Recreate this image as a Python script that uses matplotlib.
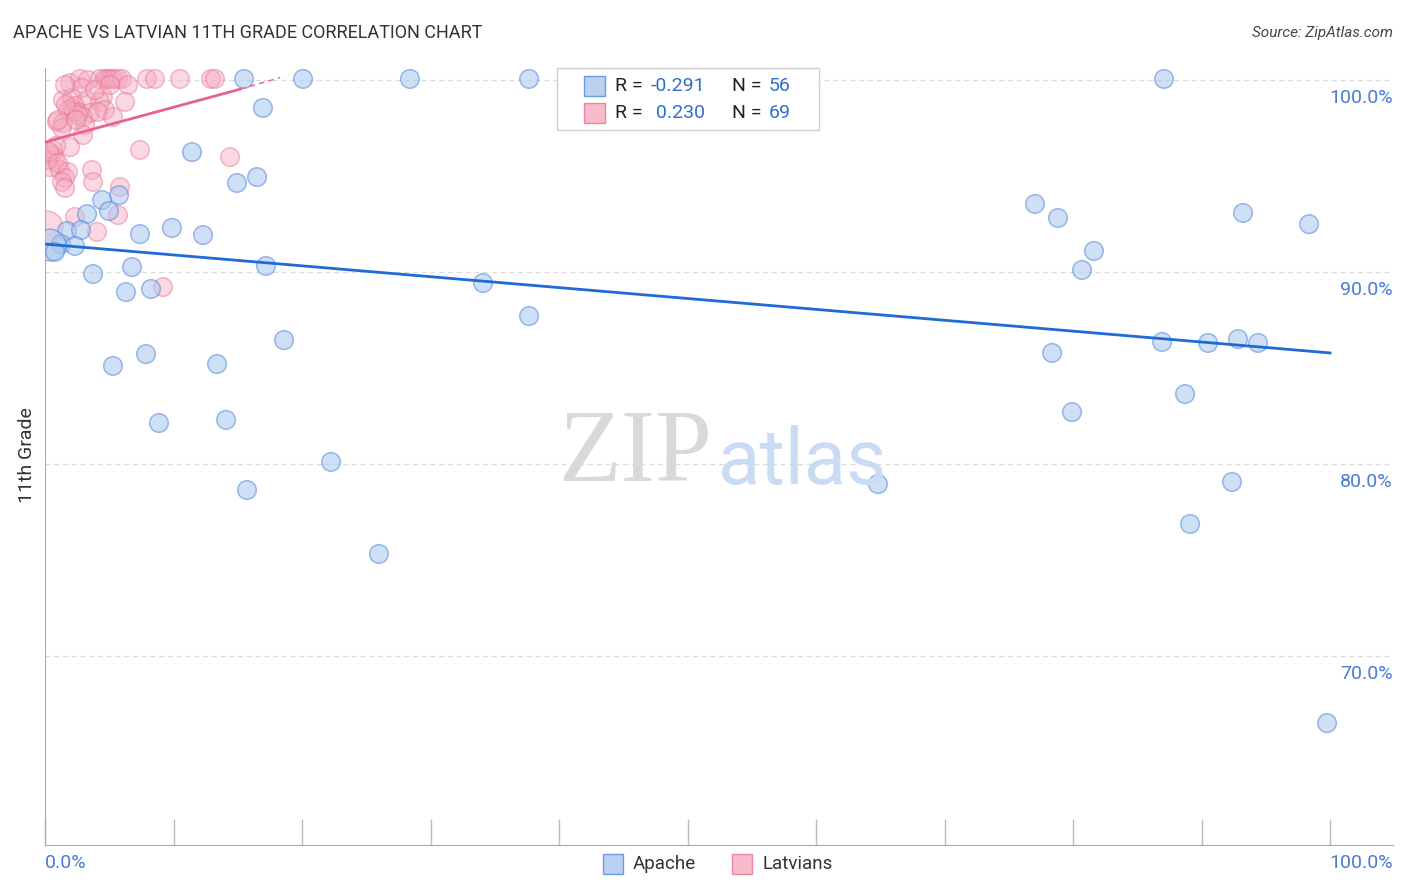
import numpy as np
import matplotlib
matplotlib.use("Agg")
import matplotlib.pyplot as plt
from matplotlib.patches import Rectangle

plt.rcParams['font.family'] = ['Roboto', 'DejaVu Sans']

# positions (pixels), converted to % below
apache_pix_x = [244, 303, 410, 529, 1164, 263, 192, 237, 257, 119,
                102, 109, 87, 67, 81, 140, 172, 203, 61, 75,
                50, 55, 132, 266, 93, 126, 151, 483, 529, 284,
                146, 113, 217, 159, 226, 331, 247, 379, 878, 1035,
                1058, 1094, 1082, 1243, 1309, 1052, 1162, 1208, 1238, 1258,
                1072, 1185, 1232, 1190, 1327, 594]
apache_pix_y = [79, 79, 79, 79, 79, 108, 152, 183, 177, 195,
                200, 211, 214, 231, 230, 234, 228, 235, 244, 246,
                245, 252, 267, 266, 274, 292, 289, 283, 316, 340,
                354, 366, 364, 423, 420, 462, 490, 554, 484, 204,
                218, 251, 270, 213, 224, 353, 342, 343, 339, 343,
                412, 394, 482, 524, 723, 79]
apache_x = [round((p - 45) / 12.85, 2) for p in apache_pix_x]
apache_y = [round(100 - (p - 79.5) / 19.2, 2) for p in apache_pix_y]
apache_size = [180] * len(apache_x)
apache_size[20] = 520

latvian_pix_x = [70, 80, 88, 100, 105, 108, 111, 114, 118, 122, 128, 147, 155, 180, 211,
                 215, 82, 63, 72, 87, 103, 100, 125, 72, 75, 68, 78, 74, 90, 105,
                 83, 98, 113, 57, 63, 62, 85, 83, 70, 53, 52, 55, 50, 60, 68,
                 65, 62, 65, 92, 93, 140, 230, 120, 118, 75, 97, 47, 163, 48, 56,
                 49, 58, 78, 66, 95, 58, 76, 110, 65]
latvian_pix_y = [83, 79, 80, 79, 79, 79, 79, 79, 79, 79, 85, 79, 79, 79, 79,
                 79, 88, 100, 98, 100, 97, 102, 102, 108, 106, 110, 112, 112, 113, 110,
                 117, 112, 117, 122, 123, 128, 125, 135, 147, 150, 155, 160, 167, 170, 172,
                 178, 182, 188, 170, 182, 150, 157, 187, 215, 217, 232, 227, 287, 160, 146,
                 152, 163, 115, 105, 90, 120, 120, 85, 85]
latvian_x = [round((p - 45) / 12.85, 2) for p in latvian_pix_x]
latvian_y = [round(100 - (p - 79.5) / 19.2, 2) for p in latvian_pix_y]
latvian_size = [180] * len(latvian_x)
latvian_size[56] = 520

apache_fit = [91.43, 85.76]   # y at x=0 and x=100
latvian_fit = [96.74, 99.5, 100.1]  # y at x=0, 15.2, 18.3

blue_fill = '#a9c6ef'
blue_edge = '#4f88d8'
pink_fill = '#f5aac0'
pink_edge = '#e66f94'

fig = plt.figure(figsize=(14.06, 8.92), dpi=100)
ax = fig.add_axes([45 / 1406, 47 / 892, 1348 / 1406, 777 / 892])
ax.set_xlim(0, 104.9)
ax.set_ylim(60.13, 100.6)

for v in [70, 80, 90, 100]:
    ax.axhline(v, color='#dcdcdc', lw=0.9, ls=(0, (4, 3)), zorder=0)

ax.scatter(latvian_x, latvian_y, s=latvian_size, color=pink_fill, alpha=0.45,
           edgecolors=pink_edge, linewidths=1.1, zorder=2)
ax.scatter(apache_x, apache_y, s=apache_size, color=blue_fill, alpha=0.55,
           edgecolors=blue_edge, linewidths=1.1, zorder=3)

ax.plot([0, 100], apache_fit, color='#1d6bd6', lw=2.0, zorder=4)
ax.plot([0, 15.2], latvian_fit[:2], color='#e8628c', lw=2.0, zorder=4)
ax.plot([15.2, 18.3], latvian_fit[1:], color='#e8628c', lw=1.0, ls=(0, (4, 3)), zorder=4)

for s in ['top', 'right']:
    ax.spines[s].set_visible(False)
ax.spines['left'].set_color('#aaaaaa')
ax.spines['bottom'].set_color('#aaaaaa')
ax.set_xticks(np.arange(0, 101, 10))
ax.set_xticklabels([])
ax.tick_params(axis='x', direction='in', length=19, color='#bbbbbb', width=1)
ax.set_yticks([])

# y tick labels on right, below gridlines
for v in [70, 80, 90, 100]:
    ax.text(104.9, v - 0.95, f'{v:.1f}%', ha='right', va='center',
            fontsize=14, color='#4a7cd4')
fig.text(45 / 1406, 1 - 863 / 892, '0.0%', ha='left', va='center', fontsize=14, color='#4a7cd4')
fig.text(1393 / 1406, 1 - 863 / 892, '100.0%', ha='right', va='center', fontsize=14, color='#4a7cd4')

fig.text(13 / 1406, 1 - 33 / 892, 'APACHE VS LATVIAN 11TH GRADE CORRELATION CHART',
         ha='left', va='center', fontsize=13, color='#333333')
fig.text(1393 / 1406, 1 - 33 / 892, 'Source: ZipAtlas.com', ha='right', va='center',
         fontsize=11, color='#444444', style='italic')
fig.text(27 / 1406, 1 - 455 / 892, '11th Grade', rotation=90, ha='center', va='center',
         fontsize=14, color='#333333')

# watermark
fig.text(635 / 1406, 1 - 456 / 892, 'ZIP', ha='center', va='center', fontsize=74,
         color='#d9d9d9', family='Liberation Serif', zorder=0)
fig.text(802 / 1406, 1 - 462 / 892, 'atlas', ha='center', va='center', fontsize=56,
         color='#c9dcf3', zorder=0)

# top legend box
fig.patches.append(Rectangle((557 / 1406, 1 - 130 / 892), 262 / 1406, 62 / 892,
                             transform=fig.transFigure, facecolor='white',
                             edgecolor='#d0d0d0', lw=1, zorder=5))
rows = [(86, blue_fill, blue_edge, '-0.291', '56'), (113, pink_fill, pink_edge, '0.230', '69')]
for py, fc, ec, r, n in rows:
    yy = 1 - py / 892
    fig.patches.append(Rectangle((584 / 1406, yy - 10 / 892), 21 / 1406, 20 / 892,
                                 transform=fig.transFigure, facecolor=fc,
                                 edgecolor=ec, lw=1, alpha=0.8, zorder=6))
    fig.text(615 / 1406, yy, 'R = ', ha='left', va='center', fontsize=14, color='#222222', zorder=7)
    fig.text(651 / 1406, yy, r if r.startswith('-') else ' ' + r, ha='left', va='center',
             fontsize=14, color='#2f6fd0', zorder=7)
    fig.text(732 / 1406, yy, 'N = ', ha='left', va='center', fontsize=14, color='#222222', zorder=7)
    fig.text(769 / 1406, yy, n, ha='left', va='center', fontsize=14, color='#2f6fd0', zorder=7)

# bottom legend
for px, fc, ec, label in [(603, blue_fill, blue_edge, 'Apache'), (732, pink_fill, pink_edge, 'Latvians')]:
    fig.patches.append(Rectangle((px / 1406, 1 - 874 / 892), 20 / 1406, 20 / 892,
                                 transform=fig.transFigure, facecolor=fc,
                                 edgecolor=ec, lw=1, alpha=0.8))
    fig.text((px + 30) / 1406, 1 - 864 / 892, label, ha='left', va='center',
             fontsize=13.5, color='#333333')

fig.savefig('out.png', dpi=100)
